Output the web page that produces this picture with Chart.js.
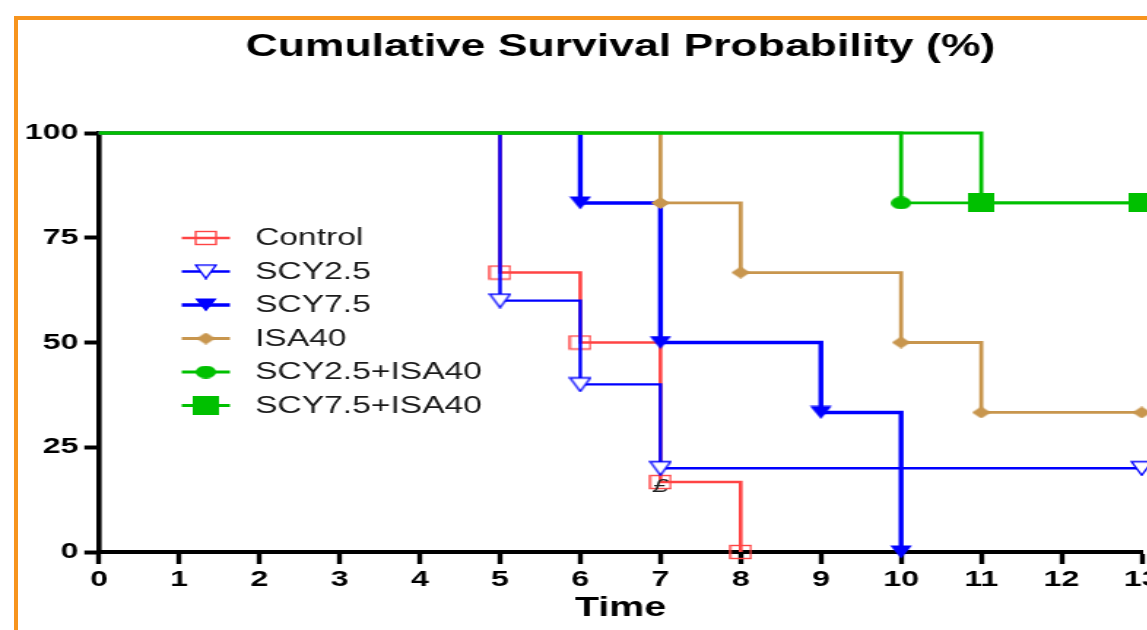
<!DOCTYPE html>
<html><head><meta charset="utf-8">
<script src="https://cdn.jsdelivr.net/npm/chart.js@4.4.1/dist/chart.umd.min.js"></script>
<style>
html,body{margin:0;padding:0;background:#fff;overflow:hidden;width:1147px;height:630px;position:relative;}
#frame{position:absolute;left:14px;top:16px;width:2000px;height:2000px;border-left:4px solid #F7941D;border-top:4px solid #F7941D;}
#wrap{position:absolute;left:0;top:0;width:800px;height:630px;transform:scaleX(1.46);transform-origin:0 0;}
</style></head><body>
<div id="frame"></div>
<div id="wrap"><canvas id="c" width="800" height="630"></canvas></div>
<script>
// ---- data ----
const seriesNames = ['Control','SCY2.5','SCY7.5','ISA40','SCY2.5+ISA40','SCY7.5+ISA40'];
const controlTime = [0,5,6,7,8];
const controlSurv = [100,66.7,50,16.7,0];
const scy25Time = [0,5,6,7,13];
const scy25Surv = [100,60,40,20,20];
const scy75Time = [0,6,7,9,10];
const scy75Surv = [100,83.3,50,33.3,0];
const isaTime = [0,7,8,10,11,13];
const isaSurv = [100,83.3,66.7,50,33.3,33.3];
const combo25Time = [0,10,13];
const combo25Surv = [100,83.3,83.3];
const combo75Time = [0,11,13];
const combo75Surv = [100,83.3,83.3];
// which points carry a marker
const controlMarks = [0,1,1,1,1];
const scy25Marks = [0,1,1,1,1];
const scy75Marks = [0,1,1,1,1];
const isaMarks = [0,1,1,1,1,1];
const combo25Marks = [0,1,0];
const combo75Marks = [0,1,1];
const xTicks = [0,1,2,3,4,5,6,7,8,9,10,11,12,13];
const yTicks = [0,25,50,75,100];

const FONT = '"Liberation Sans", Arial, sans-serif';

function makeMarker(w,h,draw){
  const c=document.createElement('canvas'); c.width=w; c.height=h;
  const g=c.getContext('2d'); draw(g,w,h); return c;
}
const RED='#FF4444', BLUE='#0000FF', TAN='#C8964E', GREEN='#00C000';
const mOpenSquare = makeMarker(16,16,(g,w,h)=>{g.strokeStyle=RED;g.lineWidth=1.4;g.strokeRect(1,1.5,14,13);});
const mOpenTri = makeMarker(16,16,(g,w,h)=>{g.beginPath();g.moveTo(1,1.5);g.lineTo(15,1.5);g.lineTo(8,15);g.closePath();g.fillStyle='#fff';g.fill();g.strokeStyle=BLUE;g.lineWidth=1.4;g.stroke();});
const mFillTri = makeMarker(16,14,(g,w,h)=>{g.beginPath();g.moveTo(0.5,0.5);g.lineTo(15.5,0.5);g.lineTo(8,13.5);g.closePath();g.fillStyle=BLUE;g.fill();});
const mDiamond = makeMarker(13,12,(g,w,h)=>{g.beginPath();g.moveTo(6.5,0);g.lineTo(13,6);g.lineTo(6.5,12);g.lineTo(0,6);g.closePath();g.fillStyle=TAN;g.fill();});
const mCircle = makeMarker(14,13,(g,w,h)=>{g.beginPath();g.ellipse(7,6.5,7,6.5,0,0,Math.PI*2);g.fillStyle=GREEN;g.fill();});
const mSquare = makeMarker(18,19,(g,w,h)=>{g.fillStyle=GREEN;g.fillRect(0,0,18,19);});

const series = [
  {label:seriesNames[0], t:controlTime, s:controlSurv, m:controlMarks, color:RED, width:2.6, marker:mOpenSquare},
  {label:seriesNames[1], t:scy25Time, s:scy25Surv, m:scy25Marks, color:BLUE, width:2.4, marker:mOpenTri},
  {label:seriesNames[2], t:scy75Time, s:scy75Surv, m:scy75Marks, color:BLUE, width:3.4, marker:mFillTri},
  {label:seriesNames[3], t:isaTime, s:isaSurv, m:isaMarks, color:TAN, width:2.8, marker:mDiamond},
  {label:seriesNames[4], t:combo25Time, s:combo25Surv, m:combo25Marks, color:GREEN, width:2.8, marker:mCircle},
  {label:seriesNames[5], t:combo75Time, s:combo75Surv, m:combo75Marks, color:GREEN, width:2.8, marker:mSquare}
];

const legendPlugin = {
  id:'insideLegend',
  afterDraw(chart){
    const ctx=chart.ctx; ctx.save();
    series.forEach((s,i)=>{
      const y=238+i*33.5;
      ctx.strokeStyle=s.color; ctx.lineWidth=s.width;
      ctx.beginPath(); ctx.moveTo(124.5,y); ctx.lineTo(157.5,y); ctx.stroke();
      ctx.drawImage(s.marker,141-s.marker.width/2,y-s.marker.height/2);
      ctx.fillStyle='#1a1a1a'; ctx.font='23px '+FONT; ctx.textAlign='left'; ctx.textBaseline='middle';
      ctx.fillText(s.label,174.7,y+1);
    });
    // small censor glyph seen on the Control curve
    const px=chart.scales.x.getPixelForValue(controlTime[3]);
    const py=chart.scales.y.getPixelForValue(controlSurv[3]);
    ctx.fillStyle='#222'; ctx.font='italic 19px '+FONT; ctx.textAlign='center'; ctx.textBaseline='middle';
    ctx.fillText('£',px,py+5);
    ctx.restore();
  }
};

new Chart(document.getElementById('c'),{
  type:'line',
  data:{datasets:series.map((s,i)=>({
    label:s.label,
    data:s.t.map((t,j)=>({x:t,y:s.s[j]})),
    borderColor:s.color, backgroundColor:s.color, borderWidth:s.width,
    stepped:'before', fill:false, tension:0,
    pointStyle:s.marker, pointRadius:s.m.map(v=>v?7:0), pointHoverRadius:s.m.map(v=>v?7:0),
    clip:false, order:series.length-i
  }))},
  options:{
    responsive:false, animation:false, devicePixelRatio:1,
    layout:{padding:{left:0,right:18,top:0,bottom:0}},
    plugins:{
      legend:{display:false}, tooltip:{enabled:false},
      title:{display:true, fullSize:false, text:'Cumulative Survival Probability (%)', color:'#000',
        font:{family:FONT,size:30.5,weight:'bold',lineHeight:1.2}, padding:{top:29,bottom:67.4}}
    },
    scales:{
      x:{type:'linear', min:0, max:13,
        afterBuildTicks(sc){sc.ticks=xTicks.map(v=>({value:v}));},
        ticks:{color:'#000', font:{family:FONT,size:22,weight:'bold'}, padding:3, maxRotation:0, autoSkip:false},
        grid:{drawOnChartArea:false, drawTicks:true, tickLength:12, tickWidth:3.4, tickColor:'#000'},
        border:{display:true, color:'#000', width:4},
        title:{display:true, text:'Time', color:'#000', font:{family:FONT,size:27,weight:'bold'}, padding:{top:0,bottom:5}},
        afterFit(sc){sc.height=78;}
      },
      y:{min:0, max:100,
        afterBuildTicks(sc){sc.ticks=yTicks.map(v=>({value:v}));},
        ticks:{color:'#000', font:{family:FONT,size:22,weight:'bold'}, padding:4},
        grid:{drawOnChartArea:false, drawTicks:true, tickLength:10, tickWidth:4, tickColor:'#000'},
        border:{display:true, color:'#000', width:3.6},
        afterFit(sc){sc.width=67.8;}
      }
    }
  },
  plugins:[legendPlugin]
});
</script>
</body></html>
